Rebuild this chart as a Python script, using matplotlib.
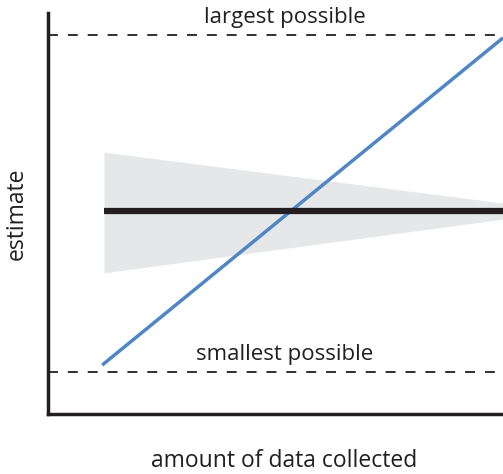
import matplotlib.pyplot as plt

# Bounds and estimates (arbitrary units)
bound_labels = ['largest possible', 'smallest possible']
bound_values = [9.45, 1.05]

x_data = [1.23, 10.0]
mean_estimate = [5.06, 5.06]
band_upper = [6.53, 5.26]
band_lower = [3.52, 4.86]

biased_x = [1.19, 10.0]
biased_estimate = [1.22, 9.38]

plt.rcParams['font.family'] = ['Open Sans', 'DejaVu Sans']

fig = plt.figure(figsize=(5.03, 4.74), dpi=100)
ax = fig.add_axes([48 / 503, 60 / 474, 455 / 503, 401 / 474])
ax.set_xlim(0, 10)
ax.set_ylim(0, 10)

# uncertainty band around the estimate
ax.fill_between(x_data, band_lower, band_upper, color='#e6e7e8', linewidth=0, zorder=1)
ax.plot(x_data, mean_estimate, color='#231f20', linewidth=4.5, solid_capstyle='butt', zorder=3)

# biased estimate
ax.plot(biased_x, biased_estimate, color='#4f86c6', linewidth=2.5, solid_capstyle='butt', zorder=2)

# dashed bounds
for lab, val in zip(bound_labels, bound_values):
    ax.axhline(val, color='#231f20', linewidth=1.3, linestyle=(0, (5.5, 5.5)), zorder=2)
    ax.text(5.2, val + 0.17, lab, ha='center', va='bottom', fontsize=16, color='#231f20')

ax.set_xticks([])
ax.set_yticks([])
ax.spines['top'].set_visible(False)
ax.spines['right'].set_visible(False)
for s in ['left', 'bottom']:
    ax.spines[s].set_linewidth(2.5)
    ax.spines[s].set_color('#231f20')

fig.text(284 / 503, 1 - 461 / 474, 'amount of data collected', ha='center', va='center',
         fontsize=16.5, color='#231f20')
fig.text(17 / 503, 1 - 214 / 474, 'estimate', ha='center', va='center', rotation=90,
         fontsize=16.5, color='#231f20')

fig.savefig('out.png', dpi=100)
